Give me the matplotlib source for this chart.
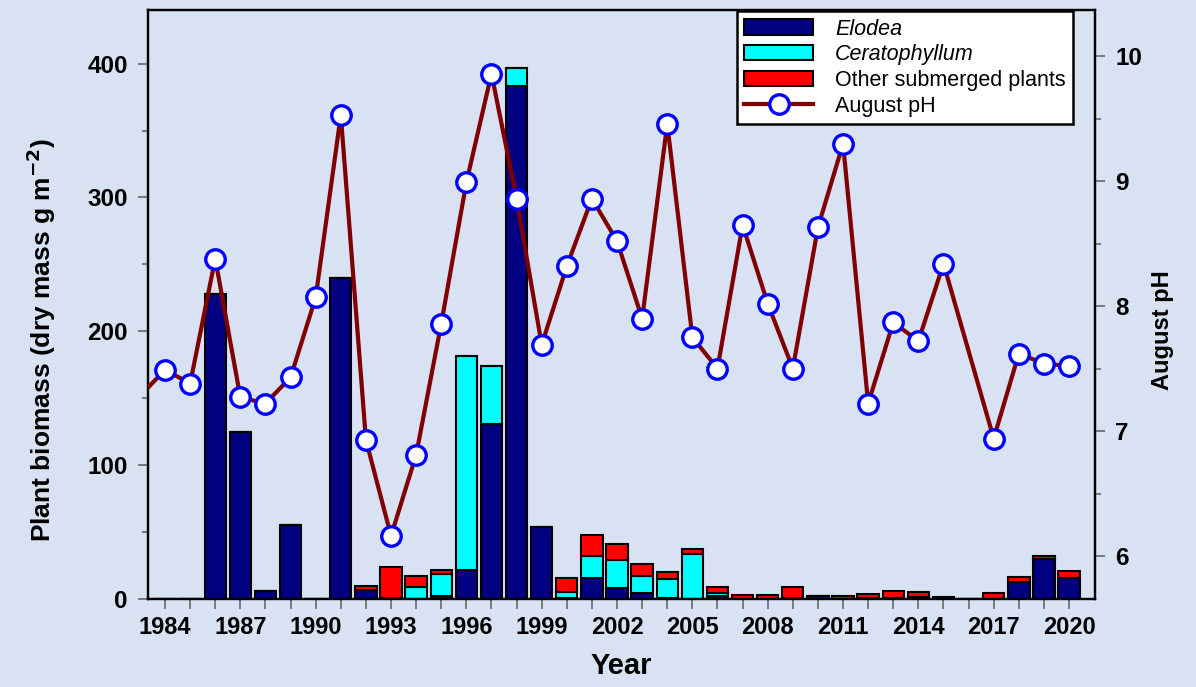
import numpy as np
import matplotlib.pyplot as plt
from matplotlib.patches import Patch
from matplotlib.lines import Line2D
from matplotlib.ticker import MultipleLocator

# Biomass by year [g dry mass m-2]
years = np.arange(1984, 2021)
elodea = [0, 0, 228, 125, 6, 55, 0, 240, 7, 0,
          0, 2.5, 21.6, 131, 383, 53.5, 0.5, 15.4, 8.4, 4.7,
          0.8, 0, 2.2, 0, 0, 1, 2.2, 0, 0.7, 0.5,
          1.2, 0, 0, 0, 13, 30, 15.4]
ceratophyllum = [0, 0, 0, 0, 0, 0, 0, 0, 0, 1,
                 8.7, 16, 160, 43, 14, 0, 5, 17, 20.7, 12.7,
                 14, 33.3, 2, 0, 0, 0, 0, 0, 0, 0,
                 0, 0, 0, 0, 0, 0, 0]
other = [0, 0, 0, 0, 0, 0, 0, 0, 2.5, 23,
         8.5, 3, 0, 0, 0, 0, 10, 15.5, 11.7, 8.5,
         5.7, 3.8, 4.5, 2.7, 2.7, 7.7, 0, 2.2, 3, 5.7,
         3.8, 1.7, 0, 4.7, 3.5, 2.3, 5.7]

# August pH (no sample in 2016)
ph_years = [1983, 1984, 1985, 1986, 1987, 1988, 1989, 1990, 1991, 1992,
            1993, 1994, 1995, 1996, 1997, 1998, 1999, 2000, 2001, 2002,
            2003, 2004, 2005, 2006, 2007, 2008, 2009, 2010, 2011, 2012,
            2013, 2014, 2015, 2017, 2018, 2019, 2020]
ph = [7.28, 7.49, 7.38, 8.38, 7.27, 7.22, 7.43, 8.07, 9.53, 6.93,
      6.16, 6.81, 7.86, 8.99, 9.86, 8.86, 7.69, 8.32, 8.86, 8.52,
      7.90, 9.46, 7.75, 7.50, 8.65, 8.02, 7.50, 8.63, 9.30, 7.22,
      7.87, 7.72, 8.34, 6.94, 7.62, 7.54, 7.52]

bg = '#d9e2f3'
navy = '#000080'
cyan = '#00ffff'
red = '#ff0000'
tickc = '#666666'
plt.rcParams['font.family'] = ['Liberation Sans', 'DejaVu Sans']

fig = plt.figure(figsize=(11.96, 6.87), dpi=100, facecolor=bg)
ax = fig.add_axes([0.1237, 0.128, 0.792, 0.8574])
ax.set_facecolor(bg)

elodea = np.array(elodea)
ceratophyllum = np.array(ceratophyllum)
other = np.array(other)
bar_kw = dict(width=0.85, edgecolor='black', linewidth=1.5)
ax.bar(years, elodea, color=navy, **bar_kw)
ax.bar(years, ceratophyllum, bottom=elodea, color=cyan, **bar_kw)
ax.bar(years, other, bottom=elodea + ceratophyllum, color=red, **bar_kw)

ax.set_xlim(1983.32, 2021.04)
ax.set_ylim(0, 440)
ax.yaxis.set_major_locator(MultipleLocator(100))
ax.yaxis.set_minor_locator(MultipleLocator(50))
ax.set_xticks(years)
ax.set_xticklabels([str(y) if (y - 1984) % 3 == 0 else '' for y in years])
ax.tick_params(axis='x', which='major', direction='out', length=7.5, width=1.2,
               color=tickc, pad=5, labelsize=17)
ax.tick_params(axis='y', which='major', direction='out', length=7.5, width=1.2,
               color=tickc, labelsize=17.5, pad=7)
ax.tick_params(axis='y', which='minor', direction='out', length=4.5, width=1.2,
               color=tickc)
for lab in ax.get_xticklabels() + ax.get_yticklabels():
    lab.set_fontweight('bold')

ax.set_ylabel('Plant biomass (dry mass g m$^{\\mathbf{-2}}$)', fontsize=19,
              fontweight='bold')
ax.yaxis.set_label_coords(-0.095, 0.44)
ax.set_xlabel('Year', fontsize=21, fontweight='bold', labelpad=9)

ax2 = ax.twinx()
ax2.plot(ph_years, ph, color='#800000', linewidth=3, marker='o', markersize=14,
         markerfacecolor='white', markeredgecolor='#0000ff', markeredgewidth=2.4,
         markevery=list(range(1, len(ph))), zorder=5)
ax2.set_ylim(5.655, 10.37)
ax2.yaxis.set_major_locator(MultipleLocator(1))
ax2.yaxis.set_minor_locator(MultipleLocator(0.5))
ax2.tick_params(axis='y', which='major', direction='out', length=7.5, width=1.2,
                color=tickc, labelsize=17.5, pad=7)
ax2.tick_params(axis='y', which='minor', direction='out', length=4.5, width=1.2,
                color=tickc)
for lab in ax2.get_yticklabels():
    lab.set_fontweight('bold')
ax2.set_ylabel('August pH', fontsize=17, fontweight='bold')
ax2.yaxis.set_label_coords(1.059, 0.457)

for a in (ax, ax2):
    for s in a.spines.values():
        s.set_linewidth(1.6)
        s.set_color('black')

handles = [
    Patch(facecolor=navy, edgecolor='black', linewidth=1.5),
    Patch(facecolor=cyan, edgecolor='black', linewidth=1.5),
    Patch(facecolor=red, edgecolor='black', linewidth=1.5),
    Line2D([], [], color='#800000', linewidth=3, marker='o', markersize=14,
           markerfacecolor='white', markeredgecolor='#0000ff', markeredgewidth=2.4),
]
labels = ['Elodea', 'Ceratophyllum', 'Other submerged plants', 'August pH']
leg = ax2.legend(handles, labels, loc='upper right', bbox_to_anchor=(0.8972, 0.984),
                 bbox_transform=fig.transFigure, borderaxespad=0, fontsize=15.5,
                 fancybox=False, framealpha=1, edgecolor='black',
                 handlelength=3.2, handleheight=0.7, labelspacing=0.22,
                 borderpad=0.35, handletextpad=1.0)
leg.get_frame().set_linewidth(1.8)
for t in leg.get_texts()[:2]:
    t.set_fontstyle('italic')

fig.savefig('out.png', dpi=100, facecolor=bg)
